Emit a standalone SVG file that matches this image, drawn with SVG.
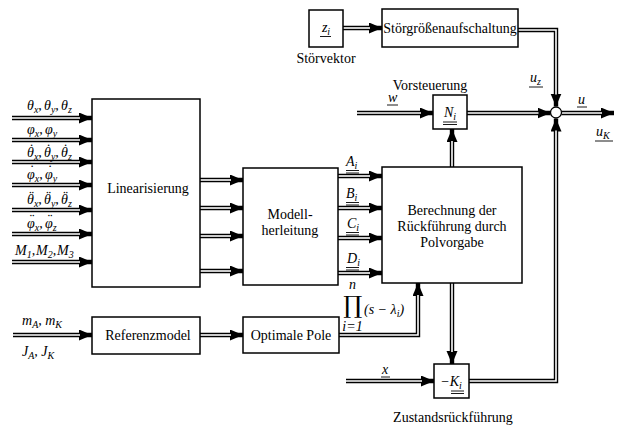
<svg xmlns="http://www.w3.org/2000/svg" width="620" height="429" viewBox="0 0 620 429" font-family="'Liberation Serif', 'Times New Roman', serif">
<defs>
<marker id="ah" markerUnits="userSpaceOnUse" markerWidth="14" markerHeight="12" refX="13" refY="5.5" orient="auto">
<path d="M0,0 L13,5.5 L0,11 z" fill="#000"/>
</marker>
<style>
.box{fill:#fff;stroke:#000;stroke-width:1.5}
.lo{fill:none;stroke:#000;stroke-width:4.4;marker-end:url(#ah)}
.li{fill:none;stroke:#fff;stroke-width:1.6}
.t{font-size:14px;fill:#000}
.m{font-style:italic;font-size:14px;fill:#000}
.s{font-size:10px}
.c{text-anchor:middle}
.ul{stroke:#000;stroke-width:0.9}
</style>
</defs>
<rect width="620" height="429" fill="#fff"/>

<g id="connectors">
<path class="lo" d="M12,118 H92"/><path class="li" d="M12,118 H80"/>
<path class="lo" d="M12,140 H92"/><path class="li" d="M12,140 H80"/>
<path class="lo" d="M12,162 H92"/><path class="li" d="M12,162 H80"/>
<path class="lo" d="M12,185 H92"/><path class="li" d="M12,185 H80"/>
<path class="lo" d="M12,210 H92"/><path class="li" d="M12,210 H80"/>
<path class="lo" d="M12,234 H92"/><path class="li" d="M12,234 H80"/>
<path class="lo" d="M12,262 H92"/><path class="li" d="M12,262 H80"/>
<path class="lo" d="M200,180 H243"/><path class="li" d="M200,180 H231"/>
<path class="lo" d="M200,208 H243"/><path class="li" d="M200,208 H231"/>
<path class="lo" d="M200,236 H243"/><path class="li" d="M200,236 H231"/>
<path class="lo" d="M200,271 H243"/><path class="li" d="M200,271 H231"/>
<path class="lo" d="M338,176 H382"/><path class="li" d="M338,176 H370"/>
<path class="lo" d="M338,208 H382"/><path class="li" d="M338,208 H370"/>
<path class="lo" d="M338,238 H382"/><path class="li" d="M338,238 H370"/>
<path class="lo" d="M338,273 H382"/><path class="li" d="M338,273 H370"/>
<path class="lo" d="M343,28 H382"/><path class="li" d="M343,28 H370"/>
<path class="lo" d="M518,30 H556 V106.5"/><path class="li" d="M518,30 H556 V94.5"/>
<path class="lo" d="M357,113 H433"/><path class="li" d="M357,113 H421"/>
<path class="lo" d="M467,113 H550.5"/><path class="li" d="M467,113 H538.5"/>
<path class="lo" d="M561.5,113 H614"/><path class="li" d="M561.5,113 H602"/>
<path class="lo" d="M452,167 V129"/><path class="li" d="M452,167 V141"/>
<path class="lo" d="M452,283 V364"/><path class="li" d="M452,283 V352"/>
<path class="lo" d="M346,381 H434"/><path class="li" d="M346,381 H422"/>
<path class="lo" d="M469,381 H556 V118.5"/><path class="li" d="M469,381 H556 V130.5"/>
<path class="lo" d="M13,335 H92"/><path class="li" d="M13,335 H80"/>
<path class="lo" d="M200,335 H243"/><path class="li" d="M200,335 H231"/>
<path class="lo" d="M339,335 H418 V283"/><path class="li" d="M339,335 H418 V295"/>
</g>

<g id="sum"><circle cx="556" cy="112.5" r="5.5" fill="#fff" stroke="#000" stroke-width="1.3"/></g>

<g id="linearisierung">
<rect class="box" x="92" y="99" width="108" height="188"/>
<text class="t c" x="148" y="193">Linearisierung</text>
</g>
<g id="modell">
<rect class="box" x="243" y="168" width="95" height="117"/>
<text class="t c" x="290" y="219">Modell-</text>
<text class="t c" x="290" y="235">herleitung</text>
</g>
<g id="berechnung">
<rect class="box" x="382" y="167" width="140" height="116"/>
<text class="t c" x="452" y="215">Berechnung der</text>
<text class="t c" x="452" y="231">Rückführung durch</text>
<text class="t c" x="452" y="247">Polvorgabe</text>
</g>
<g id="zi">
<rect class="box" x="309" y="10" width="34" height="37"/>
<text class="m c" x="326" y="32">z<tspan class="s" dy="3">i</tspan></text>
<line class="ul" x1="320" y1="36.5" x2="331" y2="36.5"/>
<text class="t c" x="326" y="63">Störvektor</text>
</g>
<g id="stoer">
<rect class="box" x="382" y="9" width="136" height="38"/>
<text class="t c" x="450" y="33">Störgrößenaufschaltung</text>
</g>
<g id="ni">
<rect class="box" x="433" y="95" width="34" height="34"/>
<text class="m c" x="450" y="117">N<tspan class="s" dy="3">i</tspan></text>
<line class="ul" x1="443" y1="122" x2="457" y2="122"/>
<line class="ul" x1="443" y1="124.5" x2="457" y2="124.5"/>
<text class="t c" x="430" y="90">Vorsteuerung</text>
</g>
<g id="ki">
<rect class="box" x="434" y="364" width="35" height="34"/>
<text class="m c" x="451" y="386">−K<tspan class="s" dy="3">i</tspan></text>
<line class="ul" x1="451" y1="391" x2="464" y2="391"/>
<line class="ul" x1="451" y1="393.5" x2="464" y2="393.5"/>
<text class="t c" x="453" y="422">Zustandsrückführung</text>
</g>
<g id="referenz">
<rect class="box" x="92" y="317" width="108" height="37"/>
<text class="t c" x="148" y="340">Referenzmodel</text>
</g>
<g id="optimal">
<rect class="box" x="243" y="317" width="96" height="36"/>
<text class="t c" x="291" y="340">Optimale Pole</text>
</g>

<g id="labels">
<text class="m" y="110"><tspan x="27">θ</tspan><tspan class="s" dy="3">x</tspan><tspan dy="-3">,</tspan><tspan x="44">θ</tspan><tspan class="s" dy="3">y</tspan><tspan dy="-3">,</tspan><tspan x="61">θ</tspan><tspan class="s" dy="3">z</tspan></text>
<text class="m" y="134"><tspan x="27">φ</tspan><tspan class="s" dy="3">x</tspan><tspan dy="-3">,</tspan><tspan x="45">φ</tspan><tspan class="s" dy="3">y</tspan></text>
<text class="m" y="157"><tspan x="27">θ</tspan><tspan class="s" dy="3">x</tspan><tspan dy="-3">,</tspan><tspan x="44">θ</tspan><tspan class="s" dy="3">y</tspan><tspan dy="-3">,</tspan><tspan x="61">θ</tspan><tspan class="s" dy="3">z</tspan></text>
<text class="m" y="179"><tspan x="27">φ</tspan><tspan class="s" dy="3">x</tspan><tspan dy="-3">,</tspan><tspan x="45">φ</tspan><tspan class="s" dy="3">y</tspan></text>
<text class="m" y="204"><tspan x="27">θ</tspan><tspan class="s" dy="3">x</tspan><tspan dy="-3">,</tspan><tspan x="44">θ</tspan><tspan class="s" dy="3">y</tspan><tspan dy="-3">,</tspan><tspan x="61">θ</tspan><tspan class="s" dy="3">z</tspan></text>
<text class="m" y="228"><tspan x="27">φ</tspan><tspan class="s" dy="3">x</tspan><tspan dy="-3">,</tspan><tspan x="45">φ</tspan><tspan class="s" dy="3">z</tspan></text>
<text class="m" y="255"><tspan x="15">M</tspan><tspan class="s" dy="3">1</tspan><tspan dy="-3">,</tspan><tspan x="36">M</tspan><tspan class="s" dy="3">2</tspan><tspan dy="-3">,</tspan><tspan x="57">M</tspan><tspan class="s" dy="3">3</tspan></text>

<g class="t" text-anchor="middle">
<text x="31.5" y="154">˙</text><text x="48.5" y="154">˙</text><text x="65.5" y="154">˙</text>
<text x="32" y="175">˙</text><text x="50" y="175">˙</text>
<text x="31.5" y="201">¨</text><text x="48.5" y="201">¨</text><text x="65.5" y="201">¨</text>
<text x="32" y="224">¨</text><text x="50" y="224">¨</text>
</g>

<text class="m" x="346" y="166">A<tspan class="s" dy="3">i</tspan></text>
<line class="ul" x1="346" y1="170.5" x2="359" y2="170.5"/><line class="ul" x1="346" y1="173" x2="359" y2="173"/>
<text class="m" x="346" y="198">B<tspan class="s" dy="3">i</tspan></text>
<line class="ul" x1="346" y1="202.5" x2="359" y2="202.5"/><line class="ul" x1="346" y1="205" x2="359" y2="205"/>
<text class="m" x="347" y="228">C<tspan class="s" dy="3">i</tspan></text>
<line class="ul" x1="346" y1="232.5" x2="359" y2="232.5"/><line class="ul" x1="346" y1="235" x2="359" y2="235"/>
<text class="m" x="347" y="263">D<tspan class="s" dy="3">i</tspan></text>
<line class="ul" x1="346" y1="267.5" x2="359" y2="267.5"/><line class="ul" x1="346" y1="270" x2="359" y2="270"/>

<text class="m" x="388" y="102">w</text>
<line class="ul" x1="387" y1="105" x2="398" y2="105"/>
<text class="m" x="530" y="82">u<tspan class="s" dy="3">z</tspan></text>
<line class="ul" x1="529" y1="87" x2="543" y2="87"/>
<text class="m" x="578" y="104">u</text>
<line class="ul" x1="577" y1="107" x2="587" y2="107"/>
<text class="m" x="596" y="136">u<tspan class="s" dy="3">K</tspan></text>
<line class="ul" x1="595" y1="141" x2="613" y2="141"/>
<text class="m" x="382" y="374">x</text>
<line class="ul" x1="381" y1="377" x2="390" y2="377"/>

<text class="m" x="22" y="325">m<tspan class="s" dy="3">A</tspan><tspan dy="-3">, m</tspan><tspan class="s" dy="3">K</tspan></text>
<text class="m" x="22" y="356">J<tspan class="s" dy="3">A</tspan><tspan dy="-3">, J</tspan><tspan class="s" dy="3">K</tspan></text>

<text class="m" x="352.5" y="289" font-size="9" text-anchor="middle">n</text>
<text x="352.5" y="313" font-family="'DejaVu Serif', serif" font-size="24" text-anchor="middle">∏</text>
<text class="m" x="352.5" y="331" font-size="9" text-anchor="middle">i=1</text>
<text class="m" x="364" y="314">(s − λ<tspan class="s" dy="3">i</tspan><tspan dy="-3">)</tspan></text>
</g>
</svg>
